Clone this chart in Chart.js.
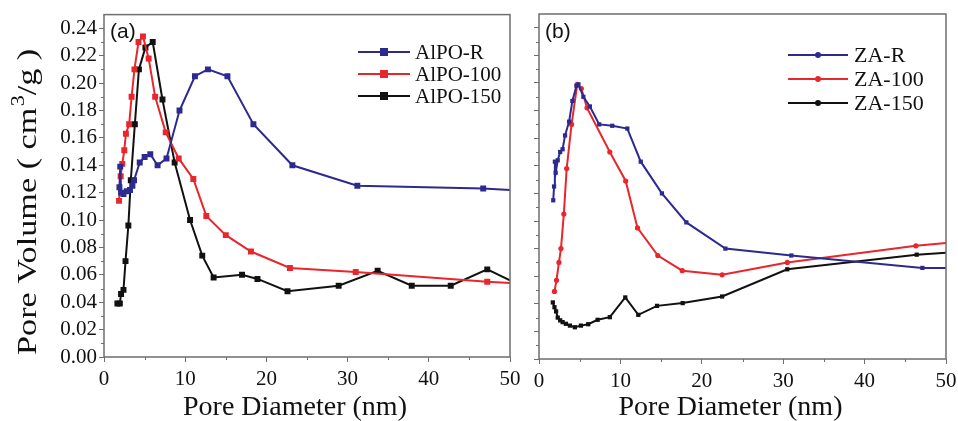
<!DOCTYPE html>
<html>
<head>
<meta charset="utf-8">
<script src="https://cdn.jsdelivr.net/npm/chart.js@4/dist/chart.umd.min.js"></script>
<style>
    html, body { margin: 0; padding: 0; background: #fff; overflow: hidden; }
    #wrap { position: relative; width: 958px; height: 421px; overflow: hidden; }
    canvas { position: absolute; top: 0; }
    #chartA { left: 0; }
    #chartB { left: 520px; }
</style>
</head>
<body>
<div id="wrap">
    <canvas id="chartA" width="540" height="421" style="width:540px;height:421px"></canvas>
    <canvas id="chartB" width="458" height="421" style="width:458px;height:421px"></canvas>
</div>
<script>
// ---- panel (a): AlPO samples ----
const alpoR_x   = [1.9, 2.0, 2.1, 2.4, 2.8, 3.2, 3.5, 3.7, 4.4, 5.0, 5.7, 6.6, 7.7, 9.3, 11.2, 12.8, 15.2, 18.4, 23.2, 31.2, 46.7, 50];
const alpoR_y   = [0.124, 0.139, 0.120, 0.119, 0.121, 0.122, 0.125, 0.129, 0.142, 0.146, 0.148, 0.140, 0.145, 0.180, 0.205, 0.210, 0.205, 0.170, 0.140, 0.125, 0.123, 0.122];
const alpo100_x = [1.85, 2.05, 2.25, 2.5, 2.7, 3.1, 3.4, 3.75, 4.25, 4.8, 5.5, 6.3, 7.6, 9.2, 11.0, 12.6, 15.0, 18.1, 22.9, 31.0, 47.2, 50];
const alpo100_y = [0.114, 0.132, 0.141, 0.151, 0.163, 0.170, 0.190, 0.210, 0.230, 0.234, 0.218, 0.190, 0.164, 0.145, 0.130, 0.103, 0.089, 0.077, 0.065, 0.062, 0.055, 0.054];
const alpo150_x = [1.65, 1.95, 2.1, 2.4, 2.65, 3.0, 3.3, 3.8, 4.3, 5.1, 6.0, 7.2, 8.7, 10.6, 12.1, 13.5, 17.0, 18.9, 22.6, 28.9, 33.7, 37.9, 42.7, 47.2, 50];
const alpo150_y = [0.039, 0.039, 0.046, 0.049, 0.070, 0.096, 0.129, 0.170, 0.210, 0.226, 0.230, 0.188, 0.142, 0.100, 0.074, 0.058, 0.060, 0.057, 0.048, 0.052, 0.063, 0.052, 0.052, 0.064, 0.056];

// ---- panel (b): ZA samples ----
const zaR_x   = [1.75, 1.85, 1.95, 2.05, 2.3, 2.6, 2.9, 3.2, 3.7, 4.1, 4.6, 4.85, 5.45, 6.25, 7.4, 9.0, 10.85, 12.5, 15.1, 18.1, 22.9, 31.0, 47.1, 50];
const zaR_y   = [0.115, 0.125, 0.143, 0.135, 0.144, 0.150, 0.152, 0.162, 0.172, 0.187, 0.198, 0.199, 0.190, 0.183, 0.170, 0.169, 0.167, 0.143, 0.120, 0.099, 0.080, 0.075, 0.066, 0.066];
const za100_x = [1.9, 2.15, 2.45, 2.7, 3.05, 3.4, 4.0, 4.7, 5.2, 5.9, 8.7, 10.65, 12.1, 14.6, 17.6, 22.5, 30.5, 46.3, 50];
const za100_y = [0.049, 0.057, 0.070, 0.080, 0.105, 0.138, 0.170, 0.199, 0.196, 0.182, 0.150, 0.129, 0.095, 0.075, 0.064, 0.061, 0.070, 0.082, 0.084];
const za150_x = [1.7, 1.9, 2.1, 2.3, 2.6, 2.9, 3.3, 3.8, 4.4, 5.15, 6.05, 7.2, 8.7, 10.6, 12.2, 14.5, 17.65, 22.5, 30.5, 46.4, 50];
const za150_y = [0.041, 0.0375, 0.0345, 0.030, 0.028, 0.0267, 0.0255, 0.0242, 0.023, 0.0242, 0.0252, 0.0284, 0.0303, 0.0446, 0.032, 0.0385, 0.0405, 0.0453, 0.065, 0.0756, 0.077];

const xTicks = [0, 10, 20, 30, 40, 50];
const yTicks = [0.00, 0.02, 0.04, 0.06, 0.08, 0.10, 0.12, 0.14, 0.16, 0.18, 0.20, 0.22, 0.24];

const BLUE = '#2d2a8f';
const RED = '#e8262b';
const BLACK = '#111111';
const AXIS = '#6e6e6e';
const SERIF = '"Liberation Serif", "Times New Roman", serif';

function pts(xs, ys) {
    return xs.map((x, i) => ({ x: x, y: ys[i] }));
}

function series(label, xs, ys, color, style, radius) {
    return {
        label: label,
        data: pts(xs, ys),
        borderColor: color,
        backgroundColor: color,
        borderWidth: 2,
        pointStyle: style,
        // last point sits on the frame edge, no marker there
        pointRadius: c => (c.raw && c.raw.x >= 50 ? 0 : radius),
        pointBorderWidth: 0,
        tension: 0
    };
}

const isMajorY = v => Math.round(v * 100) % 2 === 0 && v < 0.245;

// frame, minor ticks, titles, legend
const decor = {
    id: 'decor',
    afterDraw(chart, args, o) {
        const ctx = chart.ctx;
        const a = chart.chartArea;
        const xs = chart.scales.x, ys = chart.scales.y;
        ctx.save();
        ctx.strokeStyle = AXIS;
        ctx.lineWidth = 1.5;
        ctx.strokeRect(a.left, a.top, a.right - a.left, a.bottom - a.top);

        ctx.lineWidth = 1;
        ctx.beginPath();
        for (let v = 5; v < 50; v += 10) {
            const px = Math.round(xs.getPixelForValue(v)) + 0.5;
            ctx.moveTo(px, a.bottom);
            ctx.lineTo(px, a.bottom + 3);
        }
        for (let k = 1; k < 25; k += 2) {
            const py = Math.round(ys.getPixelForValue(k / 100)) + 0.5;
            ctx.moveTo(a.left, py);
            ctx.lineTo(a.left - 3, py);
        }
        ctx.stroke();

        // panel letter
        ctx.fillStyle = '#111';
        ctx.font = '21px "Liberation Sans", Arial, sans-serif';
        ctx.textBaseline = 'alphabetic';
        ctx.textAlign = 'left';
        ctx.fillText(o.letter, a.left + 6, 38);

        // x title
        ctx.font = '28px ' + SERIF;
        ctx.textAlign = 'center';
        ctx.fillText('Pore Diameter (nm)', (a.left + a.right) / 2 - 12, 415);

        // y title with superscript
        if (o.yTitle) {
            ctx.save();
            ctx.translate(36, 355);
            ctx.rotate(-Math.PI / 2);
            ctx.textAlign = 'left';
            const big = '28px ' + SERIF, small = '18px ' + SERIF;
            ctx.font = big;
            const p1 = 'Pore Volume ( cm', p3 = '/g )';
            const w1 = ctx.measureText(p1).width, w3 = ctx.measureText(p3).width;
            ctx.font = small;
            const w2 = ctx.measureText('3').width;
            ctx.scale(305 / (w1 + w2 + w3), 1);
            ctx.font = big;
            ctx.fillText(p1, 0, 0);
            ctx.font = small;
            ctx.fillText('3', w1 + 1, -12);
            ctx.font = big;
            ctx.fillText(p3, w1 + w2 + 1, 0);
            ctx.restore();
        }

        // legend
        const L = o.legend;
        ctx.textAlign = 'left';
        ctx.textBaseline = 'middle';
        ctx.font = L.font + 'px ' + SERIF;
        chart.data.datasets.forEach((ds, i) => {
            const y = L.rows[i];
            ctx.strokeStyle = ds.borderColor;
            ctx.lineWidth = 2;
            ctx.beginPath();
            ctx.moveTo(L.x0, y);
            ctx.lineTo(L.x1, y);
            ctx.stroke();
            ctx.fillStyle = ds.borderColor;
            const mx = (L.x0 + L.x1) / 2;
            if (L.marker === 'rect') {
                ctx.fillRect(mx - L.size / 2, y - L.size / 2, L.size, L.size);
            } else {
                ctx.beginPath();
                ctx.arc(mx, y, L.size / 2, 0, Math.PI * 2);
                ctx.fill();
            }
            ctx.fillStyle = '#111';
            ctx.fillText(ds.label, L.tx, y + 1);
        });
        ctx.restore();
    }
};

function panelOptions(cfg) {
    return {
        responsive: false,
        animation: false,
        events: [],
        layout: { padding: { top: cfg.top, right: cfg.right, bottom: 0, left: 0 } },
        plugins: {
            legend: { display: false },
            tooltip: { enabled: false },
            decor: cfg.decor
        },
        scales: {
            x: {
                type: 'linear', min: 0, max: 50,
                afterBuildTicks: s => { s.ticks = xTicks.map(v => ({ value: v })); },
                afterFit: s => { s.height = cfg.xHeight; },
                ticks: { color: '#111', font: { family: SERIF, size: 21 }, padding: 5, maxRotation: 0, autoSkip: false },
                grid: { drawOnChartArea: false, tickLength: 5, tickColor: AXIS },
                border: { display: false }
            },
            y: {
                min: 0, max: 0.25,
                afterBuildTicks: s => { s.ticks = yTicks.map(v => ({ value: v })); },
                afterFit: s => { s.width = cfg.yWidth; },
                ticks: {
                    display: cfg.yLabels, color: '#111', font: { family: SERIF, size: 21 }, padding: 2, autoSkip: false,
                    callback: v => (isMajorY(v) ? v.toFixed(2) : '')
                },
                grid: { drawOnChartArea: false, tickLength: 5, tickColor: AXIS },
                border: { display: false }
            }
        }
    };
}

new Chart(document.getElementById('chartA'), {
    type: 'line',
    data: {
        datasets: [
            series('AlPO-R', alpoR_x, alpoR_y, BLUE, 'rect', 4.2),
            series('AlPO-100', alpo100_x, alpo100_y, RED, 'rect', 4.2),
            series('AlPO-150', alpo150_x, alpo150_y, BLACK, 'rect', 4.2)
        ]
    },
    options: panelOptions({
        top: 13, right: 30, xHeight: 64, yWidth: 104, yLabels: true,
        decor: { letter: '(a)', yTitle: true,
                 legend: { x0: 358, x1: 410, tx: 415, rows: [52, 74, 96], font: 21, marker: 'rect', size: 8 } }
    }),
    plugins: [decor]
});

new Chart(document.getElementById('chartB'), {
    type: 'line',
    data: {
        datasets: [
            series('ZA-R', zaR_x, zaR_y, BLUE, 'rect', 3),
            series('ZA-100', za100_x, za100_y, RED, 'circle', 2.6),
            series('ZA-150', za150_x, za150_y, BLACK, 'rect', 3)
        ]
    },
    options: panelOptions({
        top: 14, right: 32, xHeight: 62, yWidth: 19, yLabels: false,
        decor: { letter: '(b)', yTitle: false,
                 legend: { x0: 268, x1: 328, tx: 334, rows: [55, 79, 103], font: 22, marker: 'circle', size: 6 } }
    }),
    plugins: [decor]
});
</script>
</body>
</html>
